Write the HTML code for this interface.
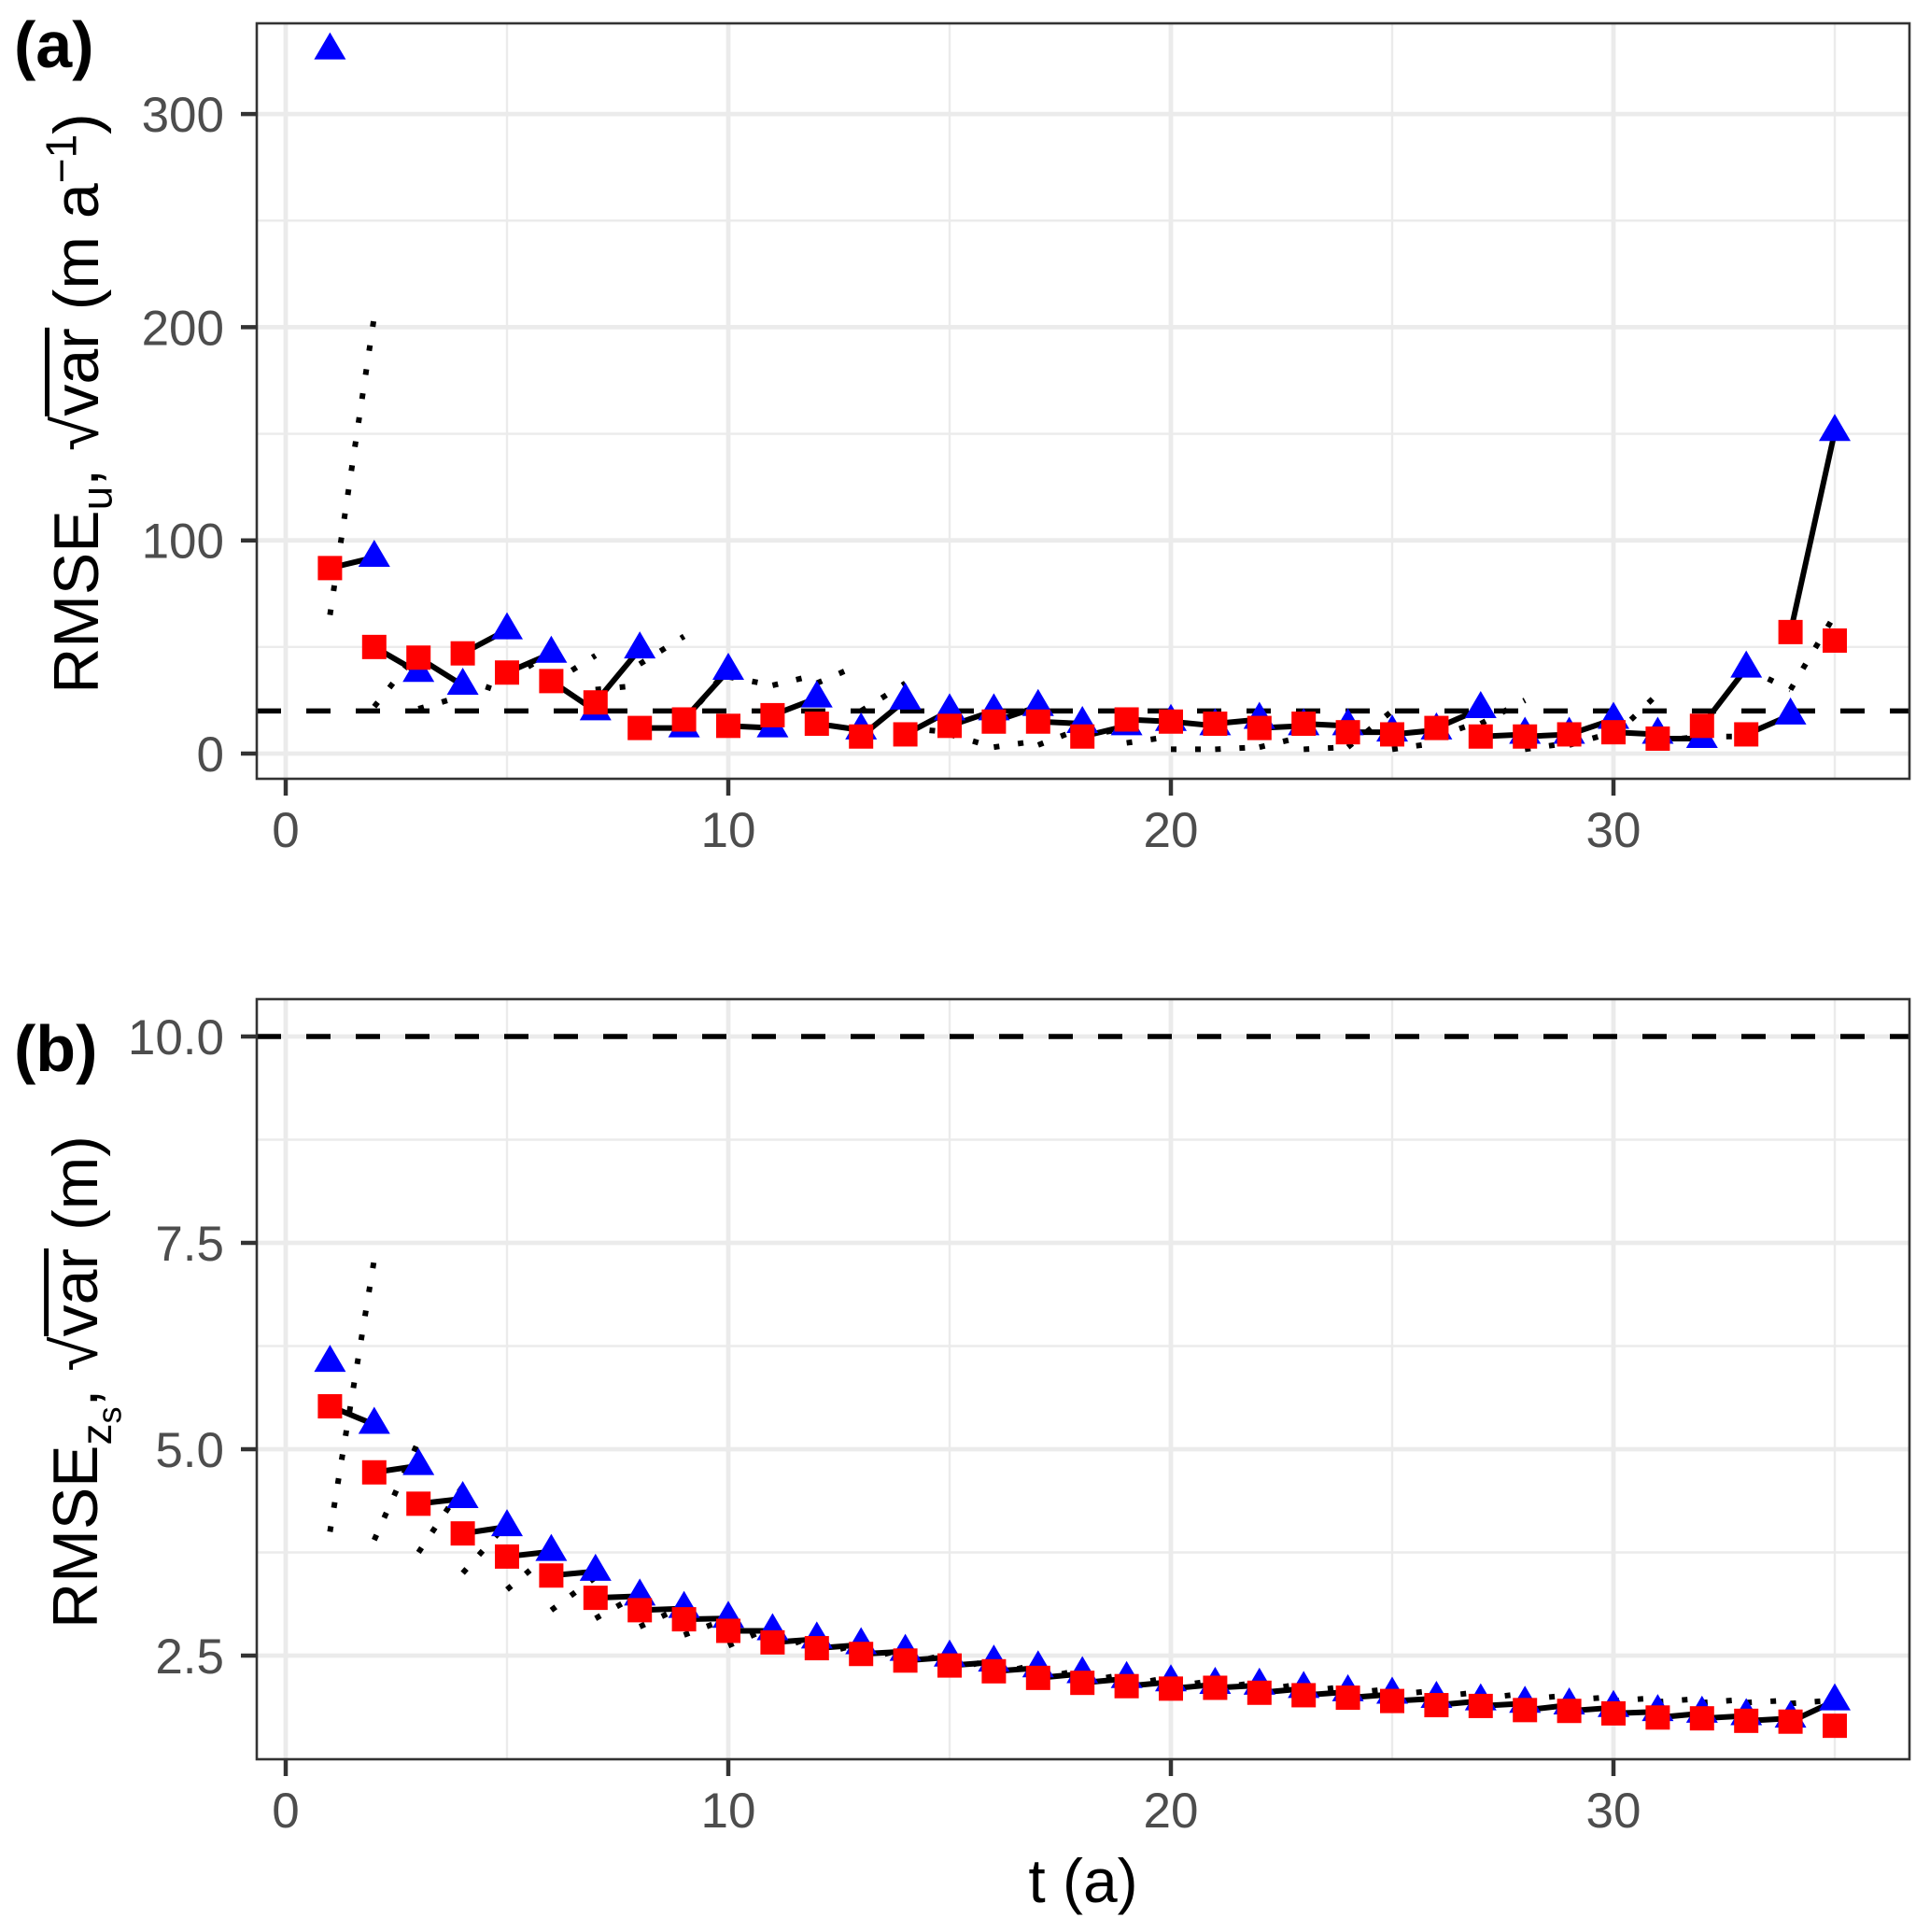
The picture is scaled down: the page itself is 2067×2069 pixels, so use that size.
<!DOCTYPE html>
<html><head><meta charset="utf-8"><style>
html,body{margin:0;padding:0;background:#fff;}
body{width:2067px;height:2069px;position:relative;overflow:hidden;font-family:"Liberation Sans",sans-serif;}
.ylab{position:absolute;font-size:68px;white-space:nowrap;line-height:1;color:#000;transform:translate(-50%,-50%) rotate(-90deg);}
.ov{display:inline-block;border-top:5px solid #000;line-height:0.78;padding-top:3px;}
sub,sup{font-size:46px;line-height:0;}
</style></head><body>
<svg id="chart" width="2067" height="2069" viewBox="0 0 2067 2069" xmlns="http://www.w3.org/2000/svg" style="position:absolute;left:0;top:0;font-family:'Liberation Sans',sans-serif;">
<g id="pa"></g>
<g id="pb"></g>
<text x="15" y="72" font-size="70" font-weight="bold">(a)</text>
<text x="15" y="1147" font-size="70" font-weight="bold">(b)</text>
<text x="1160" y="2037" font-size="66" text-anchor="middle">t (a)</text>
</svg>
<div class="ylab" style="left:82px;top:432px;">RMSE<sub>u</sub>, √<span class="ov">var</span> (m a<sup>−1</sup>)</div>
<div class="ylab" style="left:82px;top:1480px;">RMSE<sub>z<sub style="font-size:36px">s</sub></sub>, √<span class="ov">var</span> (m)</div>
<script>
const tA = [1,2,3,4,5,6,7,8,9,10,11,12,13,14,15,16,17,18,19,20,21,22,23,24,25,26,27,28,29,30,31,32,33,34,35];
const redA = [87,50,45,47,38,34,24,12,16,13,18,14,8,9,13,15,15,8,16,15,14,12,14,10,9,12,8,8,9,10,7,13,9,57,53];
const blueA = [330,92,38,32,58,47,20,49,12,39,12,26,11,25,20,20,22,14,13,15,13,16,13,13,10,11,21,9,9,16,9,7,40,18,151];
const dotStartA = [65,22,21,35,35,33,30,42,15,36,32,33,20,12,9,3,4,8,5,2,2,3,2,3,2,8,14,2,4,8,6,8,40,30];
const dotEndA = [205,48,27,28,47,46,32,55,40,32,37,42,33,10,3,6,12,12,8,2,3,8,3,20,5,15,25,5,10,28,8,8,30,65];
const refA = 20;
const yTicksA = [0,100,200,300];
const yMinorA = [50,150,250];

const redB = [5.52,4.72,4.34,3.98,3.70,3.47,3.20,3.05,2.94,2.80,2.66,2.59,2.52,2.44,2.38,2.31,2.23,2.17,2.13,2.10,2.11,2.05,2.02,1.99,1.95,1.90,1.89,1.84,1.83,1.80,1.75,1.74,1.71,1.70,1.65];
const blueB = [6.05,5.30,4.80,4.40,4.06,3.76,3.52,3.22,3.07,2.95,2.80,2.70,2.63,2.55,2.48,2.42,2.35,2.28,2.22,2.18,2.15,2.14,2.10,2.06,2.03,1.98,1.95,1.92,1.90,1.87,1.82,1.80,1.77,1.74,1.95];
const dotStartB = [4.0,3.9,3.75,3.5,3.3,3.05,2.95,2.85,2.75,2.62,2.55,2.5,2.45,2.4,2.33,2.27,2.22,2.18,2.14,2.12,2.1,2.08,2.06,2.04,2.02,2.0,1.98,1.97,1.96,1.95,1.94,1.93,1.93,1.92];
const dotEndB = [7.3,5.1,4.55,4.1,3.75,3.45,3.25,3.1,2.95,2.85,2.75,2.65,2.58,2.52,2.45,2.4,2.33,2.28,2.24,2.2,2.18,2.16,2.13,2.1,2.08,2.06,2.04,2.02,2.0,1.99,1.98,1.97,1.96,1.96];
const refB = 10;
const yTicksB = [2.5,5.0,7.5,10.0];
const yMinorB = [3.75,6.25,8.75];
const xTicks = [0,10,20,30];
const xMinor = [5,15,25,35];

const NS = "http://www.w3.org/2000/svg";
const L = 275, R = 2045;
const xs = t => 306 + 47.4 * t;
const ysA = v => 807 - 2.283 * v;
const ysB = v => 1773 - 88.4 * (v - 2.5);

function mk(parent, tag, attrs) {
  const e = document.createElementNS(NS, tag);
  for (const k in attrs) e.setAttribute(k, attrs[k]);
  parent.appendChild(e);
  return e;
}

function panel(g, top, bottom, ys, yT, yM, fmt, red, blue, ds, de, ref, key) {
  mk(g, 'rect', {x:L, y:top, width:R-L, height:bottom-top, fill:'#fff'});
  yM.forEach(v => {
    const e = mk(g, 'line', {x1:L, x2:R, y1:ys(v), y2:ys(v), stroke:'#EBEBEB', 'stroke-width':2.4});
    
    
  });
  xMinor.forEach(v => {
    const e = mk(g, 'line', {x1:xs(v), x2:xs(v), y1:top, y2:bottom, stroke:'#EBEBEB', 'stroke-width':2.4});
    
    
  });
  yT.forEach(v => {
    const e = mk(g, 'line', {x1:L, x2:R, y1:ys(v), y2:ys(v), stroke:'#EBEBEB', 'stroke-width':4.8});
    
    
    const tk = mk(g, 'line', {x1:L-17, x2:L, y1:ys(v), y2:ys(v), stroke:'#333', 'stroke-width':4.5});
    
    
    const tx = mk(g, 'text', {x:240, y:ys(v)+19, 'font-size':53, fill:'#4D4D4D', 'text-anchor':'end'});
    tx.textContent = fmt(v);
    
    
  });
  xTicks.forEach(v => {
    const e = mk(g, 'line', {x1:xs(v), x2:xs(v), y1:top, y2:bottom, stroke:'#EBEBEB', 'stroke-width':4.8});
    
    
    const tk = mk(g, 'line', {x1:xs(v), x2:xs(v), y1:bottom, y2:bottom+18, stroke:'#333', 'stroke-width':4.5});
    
    
    const tx = mk(g, 'text', {x:xs(v), y:bottom+73, 'font-size':53, fill:'#4D4D4D', 'text-anchor':'middle'});
    tx.textContent = String(v);
    
    
  });
  const rl = mk(g, 'line', {x1:L, x2:R, y1:ys(ref), y2:ys(ref), stroke:'#000', 'stroke-width':5.5, 'stroke-dasharray':'26 27'});
  
  
  for (let i = 0; i < ds.length; i++) {
    const e = mk(g, 'line', {x1:xs(tA[i]), y1:ys(ds[i]), x2:xs(tA[i+1]), y2:ys(de[i]), stroke:'#000', 'stroke-width':6, 'stroke-dasharray':'6 20'});
    
    
  }
  for (let i = 0; i < red.length - 1; i++) {
    const e = mk(g, 'line', {x1:xs(tA[i]), y1:ys(red[i]), x2:xs(tA[i+1]), y2:ys(blue[i+1]), stroke:'#000', 'stroke-width':6});
    
    
  }
  blue.forEach((v, i) => {
    const cx = xs(tA[i]), cy = ys(v);
    const e = mk(g, 'path', {d:`M${cx},${cy-19} L${cx+17},${cy+10} L${cx-17},${cy+10} Z`, fill:'#0000FF'});
    
    
  });
  red.forEach((v, i) => {
    const cx = xs(tA[i]), cy = ys(v);
    const e = mk(g, 'rect', {x:cx-13, y:cy-13, width:26, height:26, fill:'#FF0000'});
    
    
  });
  const b = mk(g, 'rect', {x:L, y:top, width:R-L, height:bottom-top, fill:'none', stroke:'#333', 'stroke-width':2.6});
  
  
}

panel(document.getElementById('pa'), 25, 834, ysA, yTicksA, yMinorA, v => String(v), redA, blueA, dotStartA, dotEndA, refA, 'u');
panel(document.getElementById('pb'), 1070, 1884, ysB, yTicksB, yMinorB, v => v.toFixed(1), redB, blueB, dotStartB, dotEndB, refB, 'zs');
</script>
</body></html>
